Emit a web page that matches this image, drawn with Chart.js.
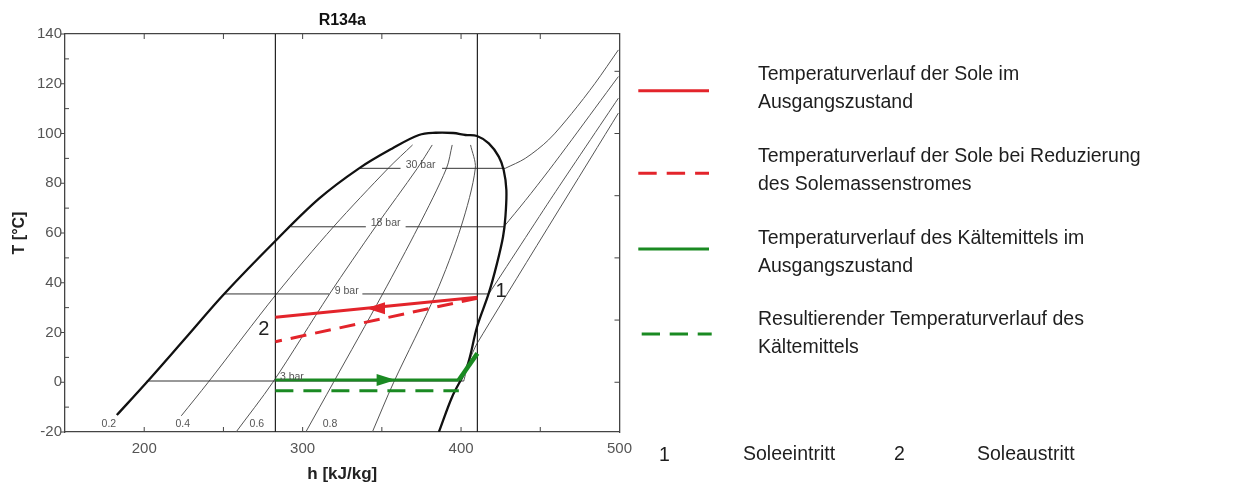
<!DOCTYPE html>
<html>
<head>
<meta charset="utf-8">
<script src="https://cdn.jsdelivr.net/npm/chart.js@4.4.0/dist/chart.umd.min.js"></script>
<style>
  body { margin: 0; background: #fff; font-family: Arial, "Liberation Sans", sans-serif; color: #1e1e1e; }
  #wrap { position: absolute; left: 0; top: 0; width: 640px; height: 486px; }
  .txt { position: absolute; font-size: 19.5px; line-height: 28px; white-space: nowrap; }
  .one { line-height: 20px; }
</style>
</head>
<body>
<div id="wrap"><canvas id="chart"></canvas></div>

<svg width="1253" height="486" style="position:absolute;left:0;top:0;pointer-events:none">
  <line x1="638.3" y1="90.7" x2="709" y2="90.7" stroke="#e3242b" stroke-width="3"/>
  <line x1="638.3" y1="173.3" x2="709" y2="173.3" stroke="#e3242b" stroke-width="3" stroke-dasharray="18.4 10"/>
  <line x1="638.3" y1="249" x2="709" y2="249" stroke="#1a8a22" stroke-width="3"/>
  <line x1="641.7" y1="334" x2="711.7" y2="334" stroke="#1a8a22" stroke-width="3" stroke-dasharray="18.3 9.7"/>
</svg>

<div class="txt" style="left:758px;top:59px">Temperaturverlauf der Sole im<br>Ausgangszustand</div>
<div class="txt" style="left:758px;top:141px">Temperaturverlauf der Sole bei Reduzierung<br>des Solemassenstromes</div>
<div class="txt" style="left:758px;top:223px">Temperaturverlauf des Kältemittels im<br>Ausgangszustand</div>
<div class="txt" style="left:758px;top:304px">Resultierender Temperaturverlauf des<br>Kältemittels</div>

<div class="txt one" style="left:659px;top:444px">1</div>
<div class="txt one" style="left:743px;top:443px">Soleeintritt</div>
<div class="txt one" style="left:894px;top:443px">2</div>
<div class="txt one" style="left:977px;top:443px">Soleaustritt</div>

<script>
// axis ticks
const xTickLabels = [200, 300, 400, 500];
const xMinorTicks = [200, 250, 300, 350, 400, 450];
const yTickLabels = [-20, 0, 20, 40, 60, 80, 100, 120, 140];
const yMinorTicks = [-10, 10, 30, 50, 70, 90, 110, 130];
const rightTicks = [0, 25, 50, 75, 100, 125];

// saturation dome (h kJ/kg, T °C)
const domeH = [182.7, 201.6, 226.4, 250.3, 283.4, 310.5, 335.6, 356.6, 373.4, 383.9, 395, 402.8, 410.1, 417.5, 423.8, 426.9, 428.6, 428.0, 426.5, 422.7, 417.5, 410.1, 403.8, 394.4, 386];
const domeT = [-13.2, 0, 18, 35.4, 57.2, 73.9, 86, 94, 99.4, 100.3, 100.2, 99.4, 99, 96, 90.7, 85.3, 77.3, 66.6, 58.5, 47.8, 35.8, 22.3, 6.3, -5.8, -20];

// quality lines x = 0.2 .. 0.8
const q02H = [223.4, 240.4, 283.5, 319.5, 354, 369.4];
const q02T = [-13.5, 0, 35.5, 62.5, 86, 95.4];
const q04H = [258, 281.2, 317, 346, 372.4, 381.8];
const q04T = [-20, 0, 35.5, 62.5, 86, 95.4];
const q06H = [302, 319.5, 350.5, 373, 390.8, 394.4];
const q06T = [-20, 0, 35.5, 62.5, 86, 95.4];
const q08H = [344, 357.5, 384, 400, 409, 406];
const q08T = [-20, 0, 35.5, 62.5, 86, 95.4];

// isobars inside the dome (null = gap for the label)
const bar3H = [201.6, 401.7];
const bar3T = [0.5, 0.5];
const bar9H = [250.3, 316.8, 327, 337.7, 417.5];
const bar9T = [35.5, 35.5, null, 35.5, 35.5];
const bar18H = [292.7, 339.9, 352, 365, 427];
const bar18T = [62.5, 62.5, null, 62.5, 62.5];
const bar30H = [335.6, 361.8, 375, 388, 427.9];
const bar30T = [86, 86, null, 86, 86];

// isobars in the superheated region
const sh3H = [401.7, 404.9, 410.1, 499.3];
const sh3T = [0.5, 8.1, 15.6, 108.2];
const sh9H = [417.5, 458, 499.3];
const sh9T = [35.5, 75, 114.2];
const sh18H = [427, 440.5, 455.2, 469.9, 484.6, 499.3];
const sh18T = [62.5, 73, 85, 97.5, 110.2, 122.9];
const sh30H = [427.9, 440.5, 455.2, 469.9, 484.6, 499.3];
const sh30T = [86, 90, 97.4, 108.1, 120.2, 133.6];

// evaporator boundaries
const vLeftH = [282.8, 282.8];
const vRightH = [410.3, 410.3];
const vT = [-20, 140];

// brine and refrigerant
const soleH = [410.3, 282.8];
const soleT = [34.2, 26.1];
const soleRedH = [410.3, 282.8];
const soleRedT = [33.8, 16.3];
const kmH = [282.8, 398.6];
const kmT = [0.9, 0.9];
const kmSupH = [398.6, 410.3];
const kmSupT = [0.9, 11.6];
const kmResH = [282.8, 398.6];
const kmResT = [-3.4, -3.4];

// arrows: h, T, direction
const arrows = [[340, 29.7, -1, '#e3242b'], [358.7, 0.9, 1, '#1a8a22']];

// text notes: h, T, text, kind
const notes = [
  [374.5, 87.1, '30 bar', 'bar'], [352.4, 64.1, '18 bar', 'bar'],
  [327.8, 36.8, '9 bar', 'bar'], [293.2, 2.2, '3 bar', 'bar'],
  [177.7, -16.9, '0.2', 'q'], [224.3, -16.9, '0.4', 'q'],
  [271.1, -16.9, '0.6', 'q'], [317.3, -16.9, '0.8', 'q'],
  [425.3, 36.5, '1', 'pt'], [275.5, 21.3, '2', 'pt']
];

function pts(hs, ts) {
  return hs.map((h, i) => ({x: h, y: ts[i]}));
}

function line(hs, ts, color, width, extra) {
  return Object.assign({
    data: pts(hs, ts), showLine: true, borderColor: color, borderWidth: width,
    pointRadius: 0, fill: false, tension: 0
  }, extra || {});
}

const RED = '#e3242b', GREEN = '#1a8a22';
const FONT = 'Arial, "Liberation Sans"';

const overlay = {
  id: 'overlay',
  afterDatasetsDraw(chart) {
    const {ctx, chartArea: a} = chart;
    const x = chart.scales.x, y = chart.scales.y;
    ctx.save();
    ctx.strokeStyle = '#444';
    ctx.lineWidth = 1;
    ctx.beginPath();
    xMinorTicks.forEach(v => {
      const px = x.getPixelForValue(v);
      ctx.moveTo(px, a.bottom); ctx.lineTo(px, a.bottom - 5);
      ctx.moveTo(px, a.top); ctx.lineTo(px, a.top + 5);
    });
    yTickLabels.forEach(v => {
      const py = y.getPixelForValue(v);
      ctx.moveTo(a.left - 4, py); ctx.lineTo(a.left, py);
    });
    yMinorTicks.forEach(v => {
      const py = y.getPixelForValue(v);
      ctx.moveTo(a.left, py); ctx.lineTo(a.left + 4, py);
    });
    rightTicks.forEach(v => {
      const py = y.getPixelForValue(v);
      ctx.moveTo(a.right - 5, py); ctx.lineTo(a.right, py);
    });
    ctx.stroke();

    arrows.forEach(([h, t, dir, color]) => {
      const px = x.getPixelForValue(h), py = y.getPixelForValue(t);
      ctx.fillStyle = color;
      ctx.beginPath();
      ctx.moveTo(px, py);
      ctx.lineTo(px - dir * 19, py - 6);
      ctx.lineTo(px - dir * 19, py + 6);
      ctx.closePath();
      ctx.fill();
    });

    ctx.textAlign = 'center';
    ctx.textBaseline = 'middle';
    notes.forEach(([h, t, text, kind]) => {
      if (kind === 'pt') { ctx.font = '20px ' + FONT; ctx.fillStyle = '#222'; }
      else { ctx.font = '10.5px ' + FONT; ctx.fillStyle = '#555'; }
      ctx.fillText(text, x.getPixelForValue(h), y.getPixelForValue(t));
    });
    ctx.restore();
  }
};

const frame = {display: true, color: '#444', width: 1.3};

new Chart(document.getElementById('chart'), {
  type: 'scatter',
  data: {
    datasets: [
      line(kmSupH, kmSupT, GREEN, 4.5),
      line(kmH, kmT, GREEN, 3),
      line(kmResH, kmResT, GREEN, 3, {borderDash: [18, 10]}),
      line(soleH, soleT, RED, 3),
      line(soleRedH, soleRedT, RED, 3, {borderDash: [16, 9]}),
      line(domeH, domeT, '#111', 2.3, {tension: 0.35}),
      line(vLeftH, vT, '#222', 1.2),
      line(vRightH, vT, '#222', 1.2),
      line(bar3H, bar3T, '#333', 1),
      line(bar9H, bar9T, '#333', 1),
      line(bar18H, bar18T, '#333', 1),
      line(bar30H, bar30T, '#333', 1),
      line(sh3H, sh3T, '#555', 1, {tension: 0.2}),
      line(sh9H, sh9T, '#555', 1, {tension: 0.2}),
      line(sh18H, sh18T, '#555', 1, {tension: 0.3}),
      line(sh30H, sh30T, '#555', 1, {tension: 0.3}),
      line(q02H, q02T, '#555', 1, {tension: 0.3}),
      line(q04H, q04T, '#555', 1, {tension: 0.3}),
      line(q06H, q06T, '#555', 1, {tension: 0.3}),
      line(q08H, q08T, '#555', 1, {tension: 0.3})
    ]
  },
  options: {
    responsive: true,
    maintainAspectRatio: false,
    animation: false,
    layout: {padding: 0},
    plugins: {legend: {display: false}, tooltip: {enabled: false}},
    scales: {
      x: {
        type: 'linear', position: 'bottom', min: 150, max: 500,
        afterBuildTicks: s => { s.ticks = xTickLabels.map(v => ({value: v})); },
        afterFit: s => { s.height = 54; },
        grid: {display: false, drawTicks: false}, border: frame,
        ticks: {color: '#555', font: {size: 15, family: FONT}, padding: 8, maxRotation: 0, autoSkip: false},
        title: {display: true, text: 'h [kJ/kg]', color: '#222', font: {size: 17, weight: 'bold', family: FONT}, padding: {top: 0, bottom: 1}}
      },
      y: {
        type: 'linear', position: 'left', min: -20, max: 140,
        afterBuildTicks: s => { s.ticks = yTickLabels.map(v => ({value: v})); },
        afterFit: s => { s.width = 65; },
        grid: {display: false, drawTicks: false}, border: frame,
        ticks: {color: '#555', font: {size: 15, family: FONT}, padding: 3, autoSkip: false},
        title: {display: true, text: 'T [°C]', color: '#222', font: {size: 16, weight: 'bold', family: FONT}, padding: {top: 10, bottom: 0}}
      },
      x2: {
        type: 'linear', position: 'top', min: 150, max: 500,
        afterFit: s => { s.height = 34; },
        grid: {display: false, drawTicks: false}, border: frame, ticks: {display: false},
        title: {display: true, text: 'R134a', color: '#111', font: {size: 16, weight: 'bold', family: FONT}, padding: {top: 11, bottom: 0}}
      },
      y2: {
        type: 'linear', position: 'right', min: -20, max: 140,
        afterFit: s => { s.width = 19; },
        grid: {display: false, drawTicks: false}, border: frame, ticks: {display: false}
      }
    }
  },
  plugins: [overlay]
});
</script>
</body>
</html>
